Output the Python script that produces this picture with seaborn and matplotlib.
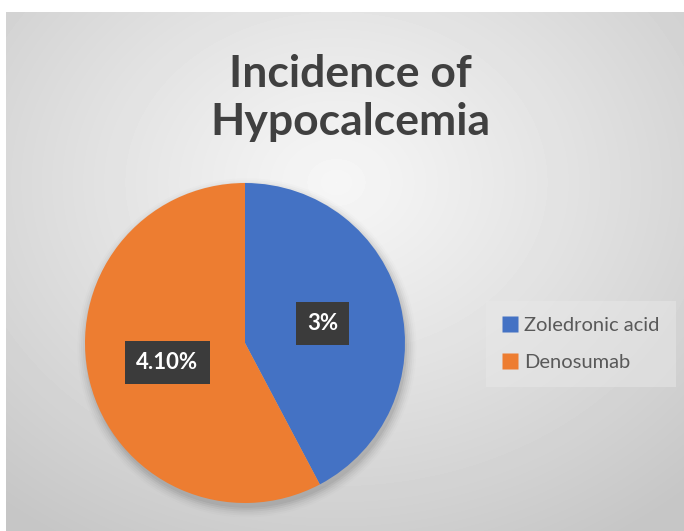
import numpy as np
import matplotlib
matplotlib.use("Agg")
import matplotlib.pyplot as plt
import seaborn as sns
from matplotlib.lines import Line2D

# ---- data ----
categories = ["Zoledronic acid", "Denosumab"]
values = [3.0, 4.1]
value_labels = ["3%", "4.10%"]
title = "Incidence of\nHypocalcemia"
colors = ["#4472C4", "#ED7D31"]

sns.set_theme(style="white")
plt.rcParams["font.family"] = ["Lato", "DejaVu Sans"]

W, H = 684, 531
fig = plt.figure(figsize=(W / 100, H / 100), dpi=100)
fig.patch.set_facecolor("white")

# background radial gradient panel
bg = fig.add_axes([6 / W, 0, 1 - 6 / W, 1 - 12 / H])
bg.set_axis_off()
yy, xx = np.mgrid[0:519, 0:678]
cx, cy = 330, 170
d = np.sqrt(((xx - cx) / 520.0) ** 2 + ((yy - cy) / 420.0) ** 2)
d = np.clip(d, 0, 1)
light, dark = 0.965, 0.775
img = light - (light - dark) * d ** 1.1
bg.imshow(img, cmap="gray", vmin=0, vmax=1, aspect="auto", interpolation="bilinear")

# title
fig.text(350 / W, 1 - 98 / H, title, ha="center", va="center",
         fontsize=32, fontweight="bold", color="#404040", linespacing=1.22)

# pie
r = 160
pcx, pcy = 245, 343
ax = fig.add_axes([(pcx - r) / W, (H - pcy - r) / H, 2 * r / W, 2 * r / H])

lab_iter = iter(value_labels)
wedges, texts, autotexts = ax.pie(
    values, colors=colors, startangle=90, counterclock=False, radius=1.0,
    autopct=lambda p: next(lab_iter), pctdistance=0.5,
    wedgeprops=dict(linewidth=0, zorder=2), frame=False)
ax.set_xlim(-1, 1)
ax.set_ylim(-1, 1)
ax.set_aspect("equal")
ax.set_axis_off()

# soft shadow
for i, a in enumerate(np.linspace(0.05, 0.012, 6)):
    sh = plt.Circle((0.012, -0.03), 1.0 + 0.012 * i, color="black", alpha=a,
                    lw=0, zorder=0, clip_on=False)
    ax.add_patch(sh)

for t in autotexts:
    t.set_color("white")
    t.set_fontsize(16)
    t.set_fontweight("bold")
    t.set_zorder(5)
    t.set_bbox(dict(boxstyle="square,pad=0.5", facecolor="#3b3b3b", edgecolor="none"))

# legend
handles = [Line2D([0], [0], marker="s", linestyle="none", markersize=11,
                  markerfacecolor=c, markeredgecolor="none") for c in colors]
leg = fig.legend(handles, categories, loc="center left",
                 bbox_to_anchor=(482 / W, 1 - 344 / H), frameon=True,
                 fontsize=14.5, handlelength=0.8, handletextpad=0.3,
                 labelspacing=1.0, borderpad=0.5, labelcolor="#595959")
leg.get_frame().set_facecolor("#e8e8e8")
leg.get_frame().set_alpha(0.5)
leg.get_frame().set_edgecolor("none")
leg.get_frame().set_boxstyle("square")

fig.savefig("out.png", dpi=100, facecolor="white")
